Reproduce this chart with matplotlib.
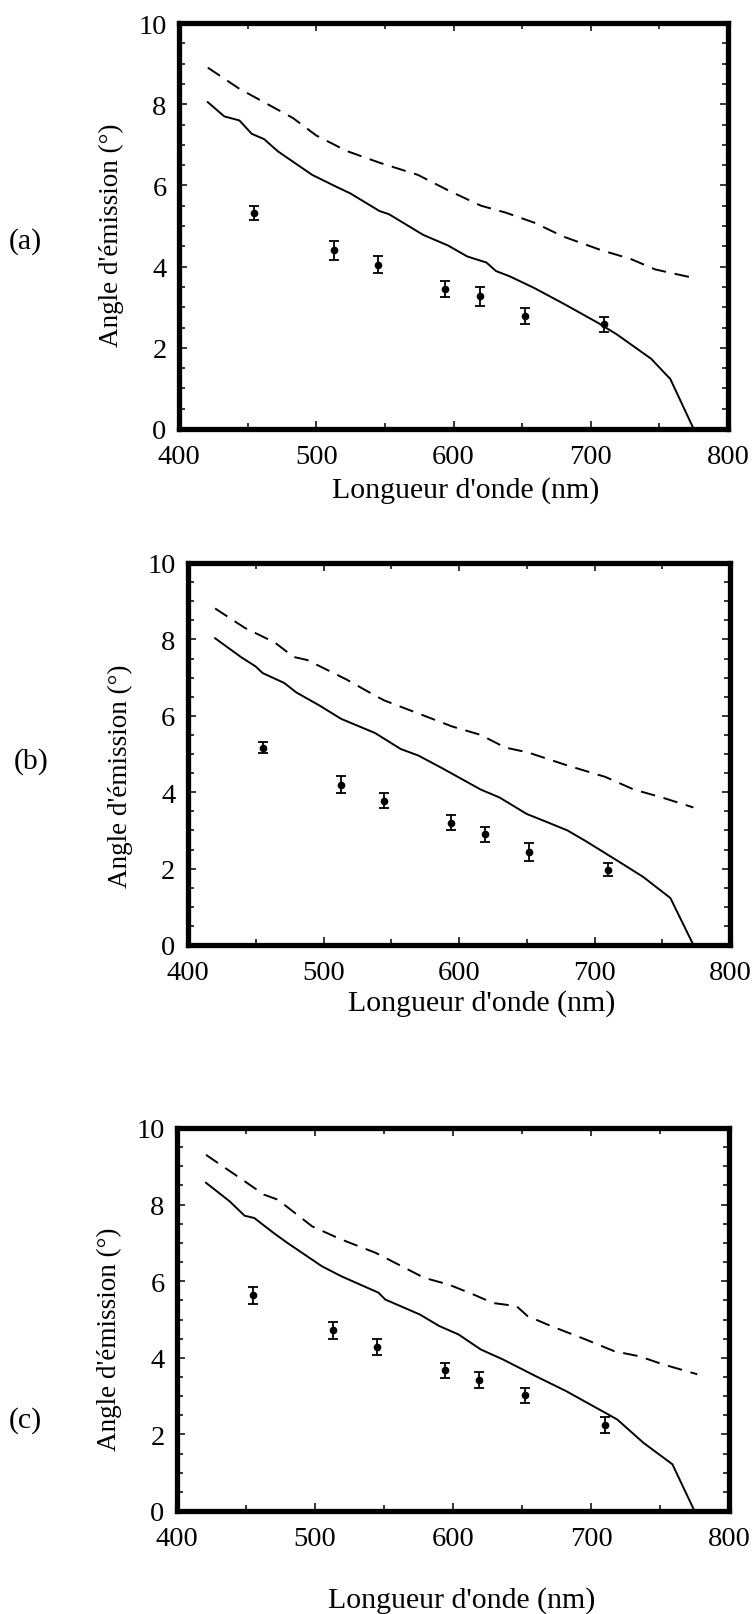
import matplotlib
matplotlib.use('Agg')
import matplotlib.pyplot as plt
from matplotlib.ticker import MultipleLocator

# measured points (same wavelengths in every panel)
wl = [455, 513, 545, 594, 619, 652, 710]
meas_a = [5.33, 4.40, 4.05, 3.45, 3.27, 2.78, 2.58]
err_a = [0.17, 0.23, 0.21, 0.20, 0.23, 0.20, 0.19]
meas_b = [5.17, 4.20, 3.78, 3.20, 2.90, 2.43, 1.97]
err_b = [0.15, 0.23, 0.20, 0.20, 0.20, 0.23, 0.17]
meas_c = [5.63, 4.72, 4.28, 3.67, 3.42, 3.02, 2.24]
err_c = [0.23, 0.22, 0.20, 0.20, 0.20, 0.20, 0.21]

# solid curves
sol_a_x = [421, 433, 444, 453, 462, 472, 497, 515, 525, 546, 553, 578, 596, 610, 624, 631, 641, 659, 680, 705, 719, 744, 758, 775]
sol_a_y = [8.05, 7.70, 7.60, 7.27, 7.14, 6.84, 6.26, 5.96, 5.80, 5.37, 5.29, 4.78, 4.52, 4.25, 4.10, 3.89, 3.76, 3.47, 3.09, 2.62, 2.33, 1.73, 1.23, 0.0]
sol_b_x = [420, 439, 450, 455, 471, 480, 497, 513, 538, 557, 570, 588, 616, 630, 650, 662, 680, 694, 719, 736, 756, 773]
sol_b_y = [8.03, 7.54, 7.29, 7.12, 6.86, 6.61, 6.27, 5.92, 5.55, 5.13, 4.96, 4.62, 4.07, 3.86, 3.43, 3.26, 3.00, 2.71, 2.16, 1.78, 1.23, 0.0]
sol_c_x = [421, 438, 449, 456, 470, 480, 505, 519, 546, 551, 576, 590, 604, 620, 636, 660, 682, 719, 738, 759, 775]
sol_c_y = [8.57, 8.09, 7.71, 7.65, 7.26, 7.00, 6.39, 6.13, 5.70, 5.52, 5.13, 4.83, 4.61, 4.22, 3.96, 3.52, 3.13, 2.39, 1.78, 1.22, 0.0]

# dashed curves
das_a_x = [421, 444, 483, 500, 522, 546, 574, 596, 620, 638, 659, 680, 708, 729, 747, 775]
das_a_y = [8.90, 8.38, 7.66, 7.23, 6.85, 6.56, 6.26, 5.88, 5.50, 5.33, 5.08, 4.74, 4.40, 4.19, 3.93, 3.72]
das_b_x = [420, 442, 464, 478, 488, 517, 538, 545, 573, 595, 616, 634, 651, 680, 708, 729, 750, 773]
das_b_y = [8.81, 8.30, 7.92, 7.54, 7.46, 6.95, 6.53, 6.40, 6.02, 5.72, 5.50, 5.17, 5.04, 4.70, 4.40, 4.07, 3.86, 3.60]
das_c_x = [421, 449, 463, 473, 498, 519, 544, 558, 579, 597, 615, 629, 646, 654, 671, 696, 717, 735, 752, 777]
das_c_y = [9.30, 8.61, 8.26, 8.13, 7.43, 7.09, 6.74, 6.48, 6.09, 5.91, 5.65, 5.43, 5.35, 5.09, 4.83, 4.48, 4.17, 4.04, 3.83, 3.57]

panel_names = ['(a)', '(b)', '(c)']
xlab = "Longueur d'onde (nm)"
ylab = "Angle d'\u00e9mission (\u00b0)"

plt.rc('font', family=['Liberation Serif', 'DejaVu Serif'], size=21.5)

W, H = 752, 1615
fig = plt.figure(figsize=(W / 100, H / 100), dpi=100, facecolor='white')

# axes boxes in pixels: left, right, top, bottom
boxes = [(179, 728, 24, 430), (188, 730, 564, 946), (177, 729, 1129, 1512)]
# label positions in pixels
panel_pos = [(25, 242), (31, 762), (25, 1421)]
ylab_pos = [(111, 235), (120, 776), (109, 1339)]
xlab_pos = [(466, 491), (482, 1004), (462, 1601)]

data = [
    (sol_a_x, sol_a_y, das_a_x, das_a_y, meas_a, err_a),
    (sol_b_x, sol_b_y, das_b_x, das_b_y, meas_b, err_b),
    (sol_c_x, sol_c_y, das_c_x, das_c_y, meas_c, err_c),
]

for i in range(3):
    l, r, t, b = boxes[i]
    ax = fig.add_axes([l / W, 1 - b / H, (r - l) / W, (b - t) / H])
    sx, sy, dx, dy, m, e = data[i]
    ax.plot(sx, sy, color='black', lw=1.4)
    ax.plot(dx, dy, color='black', lw=1.4, dashes=(7.5, 4.5))
    ax.errorbar(wl, m, yerr=e, fmt='o', color='black', ms=4.5,
                capsize=3.5, elinewidth=1.3, capthick=1.3)

    ax.set_xlim(400, 800)
    ax.set_ylim(0, 10)
    ax.xaxis.set_major_locator(MultipleLocator(100))
    ax.xaxis.set_minor_locator(MultipleLocator(50))
    ax.yaxis.set_major_locator(MultipleLocator(2))
    ax.yaxis.set_minor_locator(MultipleLocator(0.5))
    ax.tick_params(which='both', direction='in', top=True, right=True, width=1.1,
                   labelsize=20.5)
    ax.tick_params(which='major', length=6, pad=9)
    ax.tick_params(axis='x', which='major', pad=11)
    ax.tick_params(which='minor', length=4)
    for s in ax.spines.values():
        s.set_linewidth(3.8)

    fig.text(panel_pos[i][0] / W, 1 - panel_pos[i][1] / H, panel_names[i],
             ha='center', va='center')
    fig.text(ylab_pos[i][0] / W, 1 - ylab_pos[i][1] / H, ylab,
             ha='center', va='center', rotation=90, fontsize=19.5)
    fig.text(xlab_pos[i][0] / W, 1 - xlab_pos[i][1] / H, xlab,
             ha='center', va='center')

plt.savefig('out.png', dpi=100, facecolor='white')
